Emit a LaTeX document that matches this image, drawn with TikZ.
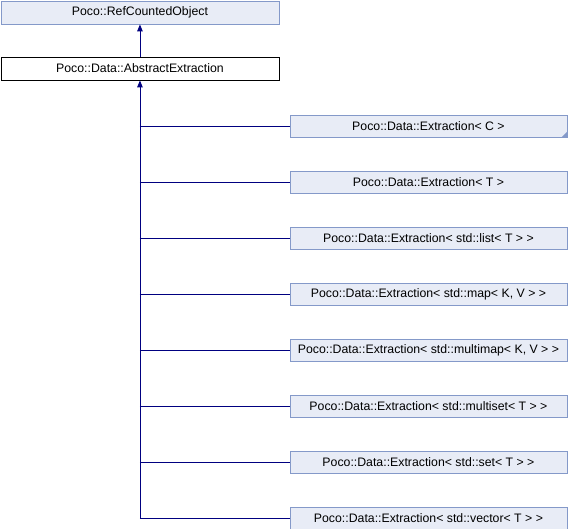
\documentclass[tikz,border=0pt]{standalone}
\usepackage{fontspec}
\setmainfont{Liberation Sans}
\usetikzlibrary{arrows.meta}
\definecolor{boxfill}{HTML}{E8ECF6}
\definecolor{boxline}{HTML}{8499C9}
\definecolor{navy}{HTML}{000080}
\tikzset{
  cls/.style={draw=boxline, fill=boxfill, line width=0.9pt, minimum height=22pt, inner sep=0pt, font=\fontsize{12.3}{14}\selectfont, anchor=north west},
  rcls/.style={cls, minimum width=277pt},
  cur/.style={draw=black, fill=white, line width=0.9pt, minimum height=23pt, minimum width=278pt, inner sep=0pt, font=\fontsize{12.3}{14}\selectfont, anchor=north west},
  inh/.style={draw=navy, line width=0.9pt},
  inharr/.style={inh, -{Triangle[length=7pt,width=5.5pt]}}
}
\begin{document}
\begin{tikzpicture}[x=1pt,y=-1pt]
\useasboundingbox (0,0) rectangle (568,528);
\node[cls, minimum width=278pt, minimum height=23pt] (ref) at (0.5,0.5) {Poco::RefCountedObject};
\node[cur] (abs) at (0.5,56.5) {Poco::Data::AbstractExtraction};
\draw[inharr] (abs.north) -- (ref.south);
\foreach \i/\t in {0/{Poco::Data::Extraction< C >},
                   1/{Poco::Data::Extraction< T >},
                   2/{Poco::Data::Extraction< std::list< T > >},
                   3/{Poco::Data::Extraction< std::map< K, V > >},
                   4/{Poco::Data::Extraction< std::multimap< K, V > >},
                   5/{Poco::Data::Extraction< std::multiset< T > >},
                   6/{Poco::Data::Extraction< std::set< T > >},
                   7/{Poco::Data::Extraction< std::vector< T > >}} {
  \node[rcls] (c\i) at (289.5,114.5+56*\i) {\t};
}
\fill[boxline] (c0.south east) -- ++(0,-6) -- ++(-6,6) -- cycle;
\coordinate (trunk) at (abs.south |- c7.west);
\draw[inh] (trunk) -- (c7.west);
\foreach \i in {0,...,6} {
  \draw[inh] (abs.south |- c\i.west) -- (c\i.west);
}
\draw[inharr] (trunk) -- (abs.south);
\end{tikzpicture}
\end{document}
